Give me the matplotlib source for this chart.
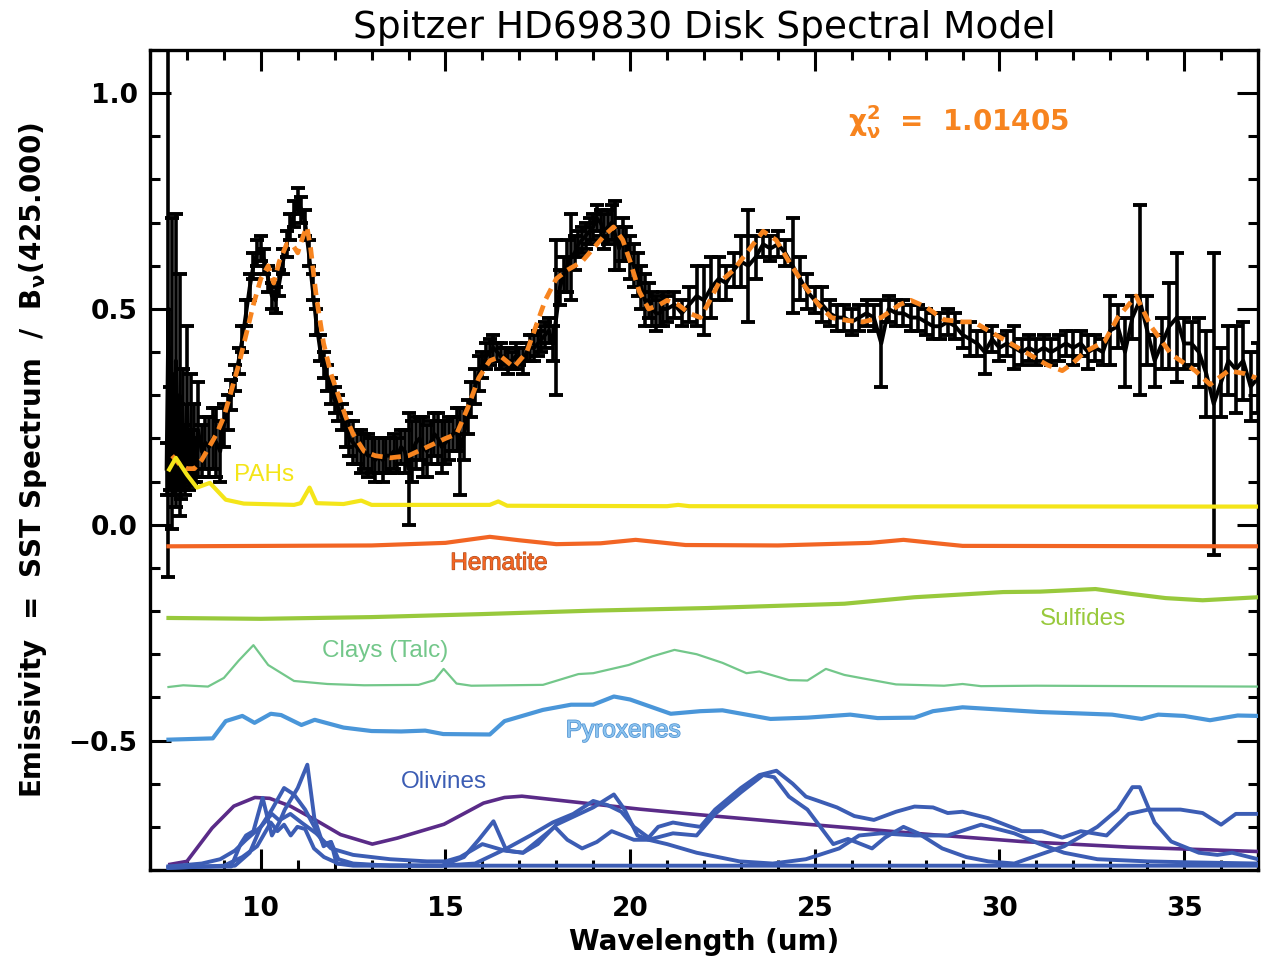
import matplotlib
matplotlib.use("Agg")
import matplotlib.pyplot as plt   # type: ignore
import matplotlib.patheffects as pe   # type: ignore
from matplotlib.ticker import MultipleLocator, FuncFormatter   # type: ignore

# --- observed IRS spectrum (um, emissivity, 1-sigma) ---
wave = [7.45, 7.50, 7.55, 7.60, 7.65, 7.70, 7.75, 7.80, 7.85, 7.90,
        7.95, 8.00, 8.05, 8.10, 8.15, 8.20, 8.25, 8.30, 8.40, 8.50,
        8.60, 8.70, 8.80, 8.90, 9.00, 9.10,
        9.2, 9.3, 9.4, 9.5, 9.6, 9.7, 9.8, 9.9, 10.0, 10.1,
        10.2, 10.3, 10.4, 10.5, 10.6, 10.7, 10.8, 10.9, 11.0, 11.1,
        11.2, 11.3, 11.4, 11.5, 11.6, 11.7, 11.8, 11.9, 12.0, 12.1,
        12.2, 12.3, 12.4, 12.5, 12.6, 12.7, 12.8, 12.9, 13.0, 13.1,
        13.2, 13.3, 13.4, 13.5, 13.6, 13.7, 13.8, 13.9, 14.0,
        14.2, 14.4, 14.6, 14.8, 15.0, 15.2, 15.4, 15.6, 15.8, 16.0,
        16.2, 16.4, 16.6, 16.8, 17.0, 17.2, 17.4, 17.6, 17.8, 18.0,
        18.2, 18.4, 18.6, 18.8, 19.0, 19.2, 19.4, 19.6, 19.8, 20.0,
        20.2, 20.4, 20.6, 20.8, 21.0, 21.2, 21.4, 21.6, 21.8, 22.0,
        22.2, 22.4, 22.6, 22.8, 23.0, 23.2, 23.4, 23.6, 23.8, 24.0,
        24.2, 24.4, 24.6, 24.8, 25.0, 25.2, 25.4, 25.6, 25.8, 26.0,
        26.2, 26.4, 26.6, 26.8, 27.0, 27.2, 27.4, 27.6, 27.8, 28.0,
        28.2, 28.4, 28.6, 28.8, 29.0, 29.2, 29.4, 29.6, 29.8, 30.0,
        30.2, 30.4, 30.6, 30.8, 31.0, 31.2, 31.4, 31.6, 31.8, 32.0,
        32.2, 32.4, 32.6, 32.8, 33.0, 33.2, 33.4, 33.6, 33.8, 34.0,
        34.2, 34.4, 34.6, 34.8, 35.0, 35.2, 35.4, 35.6, 35.8, 36.0,
        36.2, 36.4, 36.6, 36.8, 37.0]
flux = [0.13, 0.50, 0.20, 0.35, 0.14, 0.38, 0.18, 0.30, 0.12, 0.22,
        0.15, 0.28, 0.15, 0.22, 0.16, 0.19, 0.15, 0.22, 0.17, 0.19,
        0.18, 0.20, 0.19, 0.17, 0.23, 0.26,
        0.30, 0.34, 0.38, 0.43, 0.49, 0.55, 0.60, 0.63, 0.64, 0.61,
        0.57, 0.53, 0.52, 0.56, 0.61, 0.65, 0.69, 0.72, 0.75, 0.73,
        0.70, 0.63, 0.55, 0.47, 0.41, 0.37, 0.34, 0.31, 0.29, 0.27,
        0.25, 0.22, 0.20, 0.19, 0.18, 0.17, 0.17, 0.16, 0.16, 0.15,
        0.16, 0.15, 0.16, 0.16, 0.17, 0.16, 0.18, 0.17, 0.13,
        0.19, 0.18, 0.19, 0.20, 0.19, 0.21, 0.17, 0.25, 0.32, 0.37,
        0.40, 0.40, 0.39, 0.38, 0.39, 0.40, 0.41, 0.43, 0.45, 0.48,
        0.58, 0.62, 0.65, 0.67, 0.69, 0.70, 0.69, 0.67, 0.66, 0.62,
        0.58, 0.52, 0.50, 0.49, 0.50, 0.51, 0.49, 0.51, 0.53, 0.52,
        0.55, 0.57, 0.56, 0.59, 0.61, 0.60, 0.62, 0.65, 0.64, 0.65,
        0.63, 0.60, 0.57, 0.54, 0.52, 0.51, 0.49, 0.48, 0.48, 0.47,
        0.48, 0.49, 0.48, 0.42, 0.50, 0.49, 0.49, 0.48, 0.48, 0.47,
        0.46, 0.46, 0.47, 0.46, 0.44, 0.43, 0.42, 0.40, 0.43, 0.41,
        0.42, 0.41, 0.40, 0.41, 0.40, 0.41, 0.40, 0.41, 0.42, 0.41,
        0.42, 0.40, 0.41, 0.40, 0.45, 0.46, 0.40, 0.48, 0.52, 0.45,
        0.38, 0.42, 0.46, 0.48, 0.42, 0.42, 0.40, 0.35, 0.28, 0.33,
        0.38, 0.36, 0.38, 0.32, 0.34]
err = [0.06, 0.62, 0.12, 0.36, 0.07, 0.34, 0.10, 0.28, 0.06, 0.14,
       0.08, 0.18, 0.07, 0.13, 0.06, 0.09, 0.05, 0.11, 0.06, 0.06,
       0.07, 0.07, 0.08, 0.07, 0.05, 0.04,
       0.035, 0.03, 0.03, 0.03, 0.03, 0.03, 0.03, 0.03, 0.03, 0.03,
       0.03, 0.03, 0.03, 0.03, 0.03, 0.03, 0.03, 0.03, 0.03, 0.03,
       0.03, 0.03, 0.03, 0.03, 0.03, 0.03, 0.03, 0.03, 0.03, 0.03,
       0.03, 0.04, 0.04, 0.05, 0.04, 0.05, 0.04, 0.05, 0.04, 0.05,
       0.04, 0.05, 0.04, 0.04, 0.04, 0.04, 0.04, 0.05, 0.13,
       0.06, 0.07, 0.05, 0.06, 0.05, 0.04, 0.10, 0.04, 0.04, 0.03,
       0.03, 0.02, 0.02, 0.02, 0.02, 0.02, 0.03, 0.03, 0.03, 0.18,
       0.04, 0.10, 0.03, 0.03, 0.03, 0.03, 0.04, 0.08, 0.05, 0.05,
       0.05, 0.06, 0.04, 0.03, 0.03, 0.03, 0.03, 0.04, 0.07, 0.08,
       0.07, 0.05, 0.04, 0.04, 0.06, 0.13, 0.05, 0.03, 0.03, 0.03,
       0.03, 0.11, 0.05, 0.04, 0.03, 0.04, 0.03, 0.03, 0.03, 0.03,
       0.03, 0.03, 0.03, 0.10, 0.03, 0.03, 0.03, 0.03, 0.03, 0.03,
       0.03, 0.03, 0.03, 0.03, 0.03, 0.04, 0.03, 0.05, 0.03, 0.03,
       0.03, 0.05, 0.03, 0.03, 0.03, 0.03, 0.03, 0.03, 0.03, 0.04,
       0.03, 0.04, 0.03, 0.03, 0.08, 0.05, 0.08, 0.05, 0.22, 0.08,
       0.06, 0.06, 0.10, 0.15, 0.06, 0.05, 0.08, 0.10, 0.35, 0.08,
       0.08, 0.10, 0.09, 0.08, 0.08]

# extra long-low samples between 14 and 21 um
wave_mid = [14.1, 14.3, 14.5, 14.7, 14.9, 15.1, 15.3, 15.5, 15.7, 15.9,
            16.1, 16.3, 16.5, 16.7, 16.9, 17.1, 17.3, 17.5, 17.7, 17.9,
            18.1, 18.3, 18.5, 18.7, 18.9, 19.1, 19.3, 19.5, 19.7, 19.9,
            20.1, 20.3, 20.5, 20.7, 20.9]
flux_mid = [0.17, 0.20, 0.17, 0.21, 0.18, 0.20, 0.22, 0.21, 0.29, 0.35,
            0.39, 0.41, 0.39, 0.38, 0.39, 0.38, 0.41, 0.42, 0.44, 0.42,
            0.55, 0.60, 0.63, 0.66, 0.68, 0.71, 0.68, 0.70, 0.64, 0.65,
            0.60, 0.55, 0.52, 0.49, 0.50]
err_mid = [0.07, 0.05, 0.06, 0.05, 0.06, 0.05, 0.05, 0.06, 0.04, 0.04,
           0.03, 0.03, 0.03, 0.03, 0.03, 0.03, 0.03, 0.03, 0.03, 0.04,
           0.04, 0.06, 0.04, 0.03, 0.03, 0.03, 0.04, 0.04, 0.05, 0.04,
           0.05, 0.05, 0.04, 0.04, 0.04]

# --- best fit model ---
model_w = [7.6, 7.8, 8.0, 8.2, 8.4, 8.6, 8.8, 9.0, 9.2, 9.4,
           9.6, 9.8, 10.0, 10.2, 10.35, 10.5, 10.7, 10.85, 11.0, 11.15,
           11.25, 11.35, 11.5, 11.7, 11.9, 12.1, 12.3, 12.5, 12.8, 13.1,
           13.5, 14.0, 14.5, 15.0, 15.3, 15.6, 15.9, 16.2, 16.5, 16.85,
           17.2, 17.45, 17.7, 18.0, 18.3, 18.7, 19.0, 19.3, 19.55, 19.8,
           20.0, 20.25, 20.5, 20.8, 21.0, 21.3, 21.6, 21.9, 22.1, 22.4,
           22.8, 23.2, 23.6, 23.95, 24.3, 24.75, 25.1, 25.45, 25.9, 26.3,
           26.8, 27.3, 27.6, 28.0, 28.5, 29.0, 29.3, 29.9, 30.4, 30.8,
           31.3, 31.7, 32.0, 32.3, 32.85, 33.2, 33.7, 34.1, 34.65, 35.3,
           35.7, 36.2, 36.65, 36.95]
model_f = [0.16, 0.14, 0.13, 0.13, 0.15, 0.18, 0.21, 0.25, 0.31, 0.37,
           0.44, 0.51, 0.57, 0.60, 0.56, 0.61, 0.65, 0.65, 0.63, 0.67,
           0.69, 0.64, 0.53, 0.42, 0.35, 0.30, 0.25, 0.21, 0.17, 0.16,
           0.155, 0.16, 0.18, 0.20, 0.21, 0.27, 0.34, 0.38, 0.39, 0.365,
           0.40, 0.46, 0.52, 0.57, 0.59, 0.61, 0.64, 0.67, 0.69, 0.66,
           0.61, 0.54, 0.50, 0.51, 0.52, 0.51, 0.49, 0.48, 0.51, 0.56,
           0.59, 0.635, 0.68, 0.66, 0.61, 0.55, 0.51, 0.48, 0.473, 0.47,
           0.48, 0.51, 0.52, 0.505, 0.475, 0.47, 0.47, 0.44, 0.415, 0.395,
           0.37, 0.357, 0.375, 0.40, 0.425, 0.48, 0.53, 0.46, 0.395, 0.357,
           0.325, 0.357, 0.35, 0.34]
chi2 = "1.01405"

# --- dust components (offset for display) ---
pah_w = [7.52, 7.70, 8.0, 8.27, 8.62, 9.05, 9.54, 10.9, 11.08, 11.32,
         11.51, 12.24, 12.72, 13.0, 16.2, 16.43, 16.67, 21.0, 21.3, 21.6,
         37.0]
pah_f = [0.128, 0.155, 0.116, 0.086, 0.097, 0.058, 0.049, 0.046, 0.05, 0.086,
         0.05, 0.048, 0.056, 0.046, 0.046, 0.054, 0.044, 0.043, 0.046, 0.043,
         0.042]

hem_w = [7.5, 13.0, 15.0, 16.2, 17.0, 18.0, 19.2, 20.15, 21.5, 24.0,
         26.5, 27.4, 28.3, 29.0, 37.0]
hem_f = [-0.05, -0.048, -0.042, -0.028, -0.036, -0.045, -0.043, -0.035, -0.047, -0.048,
         -0.042, -0.035, -0.043, -0.049, -0.05]

sul_w = [7.5, 10.0, 13.0, 16.0, 19.0, 22.1, 25.8, 27.7, 30.1, 31.1,
         32.6, 33.55, 34.5, 35.5, 37.0]
sul_f = [-0.216, -0.218, -0.214, -0.207, -0.199, -0.193, -0.183, -0.168, -0.156, -0.155,
         -0.149, -0.16, -0.17, -0.175, -0.168]

clay_w = [7.5, 7.9, 8.57, 9.0, 9.4, 9.8, 10.2, 10.9, 11.8, 12.8,
          14.27, 14.7, 14.95, 15.3, 15.7, 17.64, 18.6, 19.0, 19.96, 20.6,
          21.2, 21.8, 22.5, 23.15, 23.5, 24.3, 24.8, 25.3, 25.8, 26.3,
          27.2, 28.5, 29.0, 29.5, 31.0, 37.0]
clay_f = [-0.376, -0.372, -0.375, -0.355, -0.315, -0.279, -0.325, -0.362, -0.369, -0.372,
          -0.371, -0.36, -0.334, -0.368, -0.373, -0.371, -0.346, -0.344, -0.325, -0.305,
          -0.29, -0.30, -0.32, -0.344, -0.34, -0.36, -0.361, -0.334, -0.348, -0.356,
          -0.37, -0.373, -0.369, -0.374, -0.373, -0.375]

pyr_w = [7.5, 8.7, 9.05, 9.5, 9.83, 10.27, 10.55, 11.1, 11.46, 12.24,
         13.0, 13.8, 14.45, 14.94, 16.2, 16.6, 17.64, 18.4, 19.0, 19.56,
         20.0, 21.1, 21.9, 22.5, 23.8, 24.8, 25.96, 26.7, 27.7, 28.2,
         29.0, 29.96, 31.1, 32.1, 33.05, 33.85, 34.3, 35.0, 35.7, 36.45,
         37.0]
pyr_f = [-0.498, -0.495, -0.455, -0.443, -0.459, -0.438, -0.441, -0.464, -0.452, -0.47,
         -0.478, -0.479, -0.477, -0.485, -0.486, -0.455, -0.429, -0.417, -0.417, -0.398,
         -0.405, -0.438, -0.432, -0.43, -0.45, -0.447, -0.44, -0.448, -0.447, -0.432,
         -0.423, -0.428, -0.434, -0.437, -0.44, -0.45, -0.44, -0.443, -0.453, -0.442,
         -0.443]

# olivines: amorphous (purple) and four crystalline curves (blue)
oam_w = [7.54, 8.0, 8.68, 9.27, 9.84, 10.24, 10.8, 11.6, 12.16, 13.02,
         13.7, 14.96, 16.03, 16.6, 17.07, 18.34, 20.26, 21.88, 24.8, 27.7,
         30.6, 33.5, 36.95]
oam_f = [-0.787, -0.78, -0.703, -0.652, -0.632, -0.634, -0.652, -0.69, -0.718, -0.74,
         -0.726, -0.694, -0.645, -0.632, -0.629, -0.641, -0.659, -0.672, -0.694, -0.715,
         -0.734, -0.747, -0.757]

ol1_w = [7.5, 9.2, 9.45, 9.6, 9.8, 10.05, 10.3, 10.5, 10.65, 11.0,
         11.26, 11.45, 11.7, 11.9, 12.05, 12.5, 14.9, 15.5, 15.9, 16.3,
         16.65, 17.1, 17.5, 18.0, 18.5, 19.0, 19.56, 19.85, 20.2, 20.5,
         21.16, 21.8, 22.3, 23.0, 23.6, 23.9, 24.3, 24.8, 25.5, 25.9,
         26.55, 26.9, 27.4, 27.8, 28.45, 29.1, 29.7, 30.4, 30.9, 31.75,
         32.65, 33.2, 33.6, 33.8, 34.2, 34.65, 35.4, 35.9, 36.3, 37.0]
ol1_f = [-0.792, -0.792, -0.74, -0.72, -0.71, -0.633, -0.72, -0.69, -0.66, -0.61,
         -0.556, -0.68, -0.745, -0.735, -0.785, -0.79, -0.79, -0.77, -0.73, -0.687,
         -0.755, -0.76, -0.74, -0.695, -0.675, -0.655, -0.625, -0.66, -0.72, -0.73,
         -0.715, -0.72, -0.67, -0.62, -0.58, -0.585, -0.63, -0.66, -0.74, -0.728,
         -0.75, -0.725, -0.70, -0.715, -0.75, -0.77, -0.78, -0.785, -0.77, -0.745,
         -0.70, -0.66, -0.608, -0.608, -0.69, -0.734, -0.76, -0.765, -0.76, -0.775]

ol2_w = [7.5, 9.3, 9.7, 10.0, 10.3, 10.63, 10.9, 11.2, 11.45, 11.7,
         11.9, 12.1, 12.5, 13.5, 14.9, 15.8, 16.66, 17.3, 17.9, 18.46,
         19.0, 19.4, 19.76, 20.1, 20.5, 20.76, 21.16, 21.5, 21.9, 22.3,
         23.0, 23.5, 23.96, 24.4, 24.76, 25.1, 25.6, 26.07, 26.6, 27.2,
         27.7, 28.2, 28.6, 29.0, 29.7, 30.6, 31.15, 31.7, 32.2, 32.9,
         33.5, 34.03, 34.9, 35.5, 36.0, 36.4, 36.95]
ol2_f = [-0.795, -0.79, -0.76, -0.70, -0.66, -0.61, -0.625, -0.66, -0.70, -0.74,
         -0.735, -0.775, -0.785, -0.79, -0.79, -0.785, -0.75, -0.72, -0.69, -0.67,
         -0.64, -0.65, -0.665, -0.70, -0.725, -0.70, -0.69, -0.695, -0.70, -0.66,
         -0.61, -0.58, -0.57, -0.60, -0.63, -0.64, -0.655, -0.675, -0.684, -0.665,
         -0.653, -0.655, -0.668, -0.665, -0.68, -0.71, -0.71, -0.725, -0.71, -0.72,
         -0.67, -0.66, -0.66, -0.668, -0.695, -0.67, -0.67]

ol3_w = [7.5, 8.4, 8.9, 9.3, 9.6, 10.0, 10.3, 10.5, 10.8, 11.1,
         11.5, 11.9, 12.5, 13.5, 14.5, 15.0, 15.4, 16.0, 16.6, 17.1,
         17.96, 18.3, 18.7, 19.1, 19.5, 20.1, 20.5, 21.0, 21.8, 22.96,
         23.86, 24.76, 25.66, 26.2, 26.8, 27.7, 28.6, 29.5, 30.4, 31.1,
         31.75, 32.65, 34.0, 35.0, 37.0]
ol3_f = [-0.792, -0.785, -0.775, -0.755, -0.73, -0.70, -0.67, -0.685, -0.67, -0.69,
         -0.715, -0.75, -0.765, -0.775, -0.78, -0.78, -0.77, -0.74, -0.755, -0.76,
         -0.70, -0.73, -0.75, -0.735, -0.71, -0.73, -0.73, -0.74, -0.76, -0.78,
         -0.785, -0.775, -0.75, -0.72, -0.715, -0.72, -0.72, -0.695, -0.715, -0.74,
         -0.76, -0.775, -0.78, -0.782, -0.785]

ol4_w = [7.5, 9.0, 9.5, 9.9, 10.27, 10.45, 10.63, 10.81, 10.99, 11.2,
         11.44, 11.71, 12.1, 13.0, 15.0, 20.0, 37.0]
ol4_f = [-0.795, -0.79, -0.77, -0.745, -0.69, -0.71, -0.695, -0.72, -0.70, -0.705,
         -0.75, -0.77, -0.785, -0.789, -0.79, -0.79, -0.79]

col_model = "#f7841f"
col_pah = "#f4e519"
col_hem = "#f26524"
col_sul = "#98c93c"
col_clay = "#73c78a"
col_pyr = "#4a96d9"
col_olv = "#3c5db4"
col_oam = "#5a2b88"

plt.rcParams["font.family"] = ["DejaVu Sans"]
plt.rcParams["mathtext.fontset"] = "dejavusans"

spec = sorted(zip(wave + wave_mid, flux + flux_mid, err + err_mid))
spec_w = [s[0] for s in spec]
spec_f = [s[1] for s in spec]
spec_e = [s[2] for s in spec]

fig = plt.figure(figsize=(12.63, 9.66), dpi=100)
ax = fig.add_axes([150 / 1263, 96 / 966, 1108 / 1263, 820 / 966])

ax.errorbar(spec_w, spec_f, yerr=spec_e, color="k", lw=2.8, elinewidth=2.6,
            capsize=5, capthick=2.8, zorder=2)
ax.plot(model_w, model_f, color=col_model, lw=3.4,
        linestyle=(0, (2.4, 1.5)), zorder=3)

ax.plot(pah_w, pah_f, color=col_pah, lw=3, zorder=4)
ax.plot(hem_w, hem_f, color=col_hem, lw=3, zorder=4)
ax.plot(sul_w, sul_f, color=col_sul, lw=3, zorder=4)
ax.plot(clay_w, clay_f, color=col_clay, lw=1.6, zorder=4)
ax.plot(pyr_w, pyr_f, color=col_pyr, lw=3, zorder=4)
ax.plot(oam_w, oam_f, color=col_oam, lw=2.6, zorder=4)
for w, f in [(ol1_w, ol1_f), (ol2_w, ol2_f), (ol3_w, ol3_f), (ol4_w, ol4_f)]:
    ax.plot(w, f, color=col_olv, lw=2.8, zorder=4)

lab = dict(family=["Liberation Sans", "DejaVu Sans"], fontsize=17.5,
           va="center", ha="left")
ax.text(9.27, 0.116, "PAHs", color=col_pah, **lab)
ax.text(15.13, -0.09, "Hematite", color=col_hem,
        path_effects=[pe.withStroke(linewidth=0.8, foreground="#a84a1c")], **lab)
ax.text(31.09, -0.218, "Sulfides", color=col_sul, **lab)
ax.text(11.65, -0.292, "Clays (Talc)", color=col_clay, **lab)
ax.text(18.26, -0.478, "Pyroxenes", color="#8cc3ef",
        path_effects=[pe.withStroke(linewidth=1.0, foreground="#4a8fd0")], **lab)
ax.text(13.78, -0.596, "Olivines", color=col_olv, **lab)

ax.text(25.9, 0.933, r"$\mathbf{\chi^2_\nu}$  =  " + chi2, color=col_model,
        fontsize=20, fontweight="bold", va="center", ha="left")

ax.set_xlim(7.0, 37.0)
ax.set_ylim(-0.8, 1.1)
ax.xaxis.set_major_locator(MultipleLocator(5))
ax.xaxis.set_minor_locator(MultipleLocator(1))
ax.yaxis.set_major_locator(MultipleLocator(0.5))
ax.yaxis.set_minor_locator(MultipleLocator(0.1))
ax.tick_params(which="both", direction="in", top=True, right=True,
               width=2.2, labelsize=19)
ax.tick_params(which="major", length=15)
ax.tick_params(which="minor", length=7.5)
ax.tick_params(axis="x", pad=19)
ax.tick_params(axis="y", pad=9)
ax.yaxis.set_major_formatter(FuncFormatter(
    lambda v, p: ("\u2212%.1f" % abs(v)) if v < 0 else "%.1f" % v))
for lbl in ax.get_xticklabels() + ax.get_yticklabels():
    lbl.set_fontweight("bold")
for s in ax.spines.values():
    s.set_linewidth(2.4)

ax.set_title("Spitzer HD69830 Disk Spectral Model", fontsize=27, pad=9)
ax.set_xlabel("Wavelength (um)", fontsize=20, fontweight="bold", labelpad=4)
ax.set_ylabel(r"Emissivity  =  SST Spectrum  /  B$_\mathbf{\nu}$(425.000)",
              fontsize=20, fontweight="bold", labelpad=14)

fig.savefig("out.png", dpi=100)
